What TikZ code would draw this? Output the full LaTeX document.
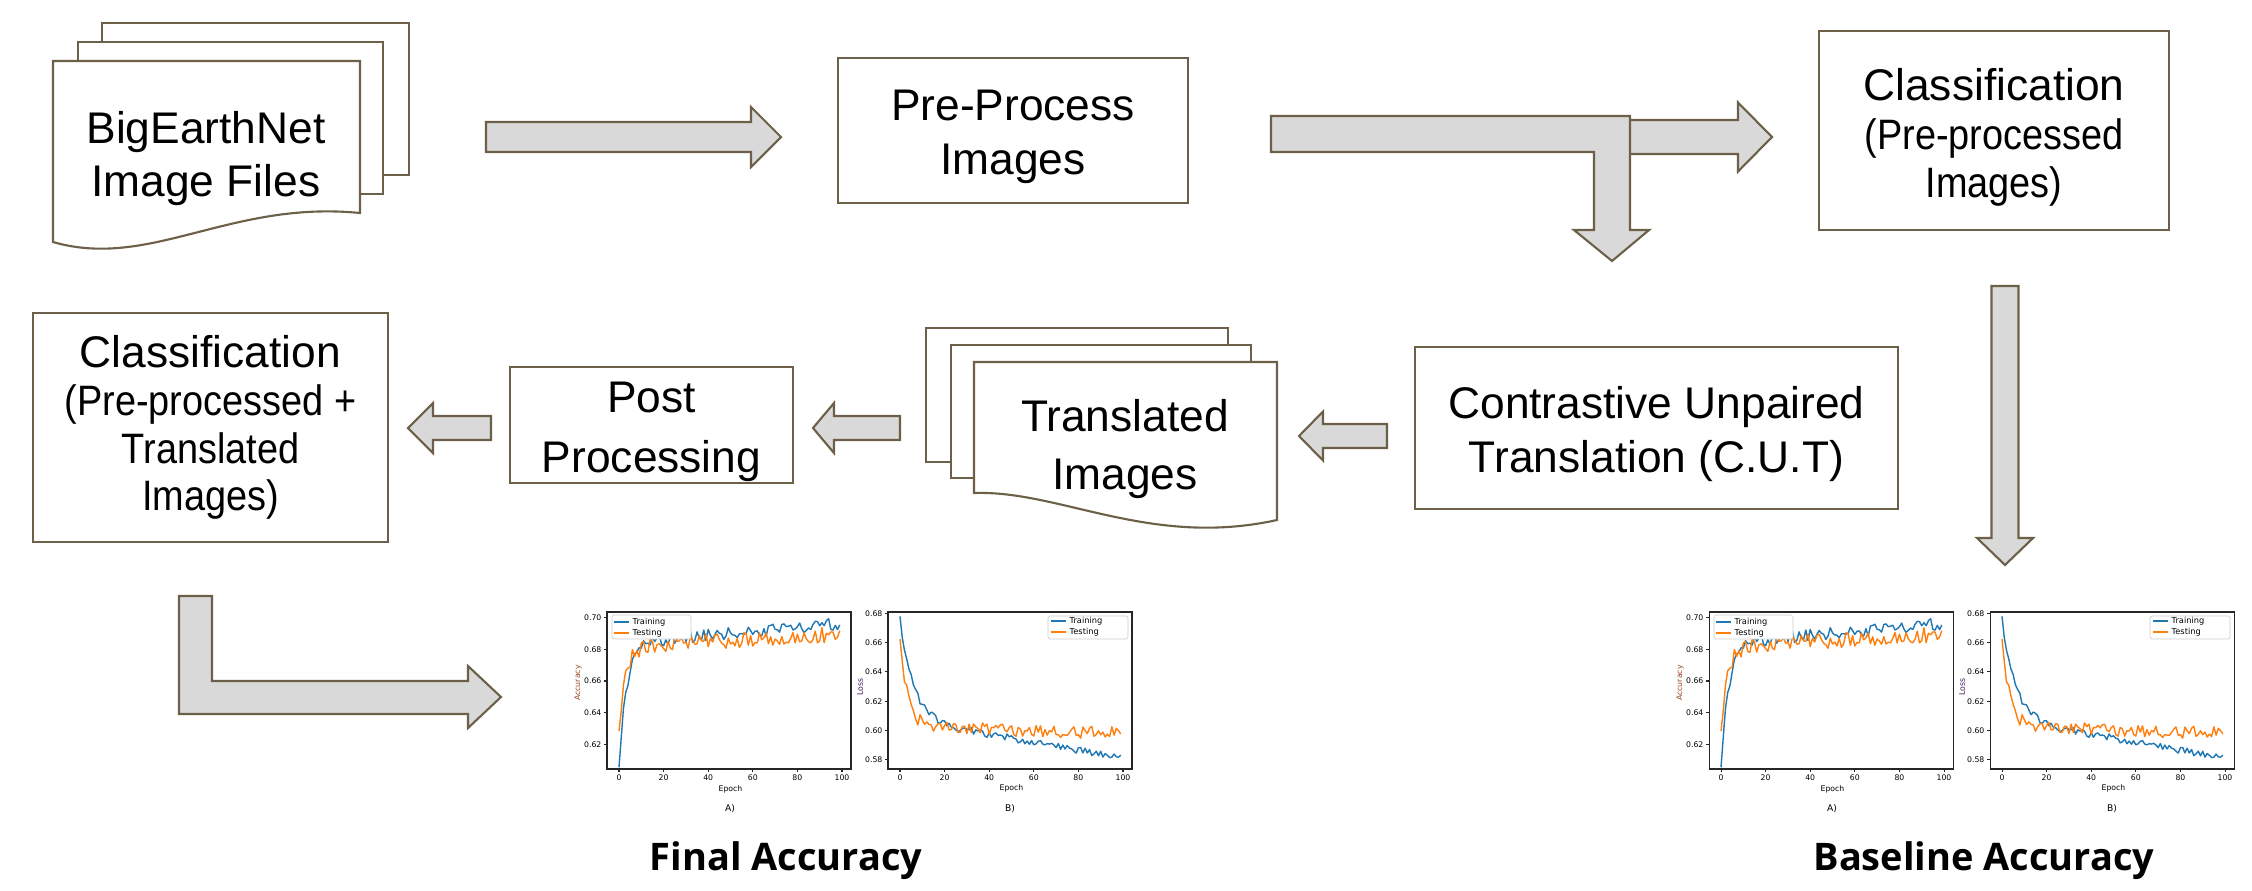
\documentclass[tikz,border=0pt]{standalone}
\usepackage{graphicx}
\usepackage{fontspec}
\setmainfont{Liberation Sans}
\newfontfamily\titlefont{Open Sans}
\newfontfamily\plotfont{DejaVu Sans}
\usetikzlibrary{calc}
\definecolor{edgecol}{RGB}{108,96,72}
\definecolor{arrowfill}{RGB}{217,217,217}
\definecolor{trainblue}{HTML}{1F77B4}
\definecolor{testorange}{HTML}{FF7F0E}
\definecolor{acclabel}{RGB}{150,70,30}
\definecolor{losslabel}{RGB}{70,20,90}
\newcommand{\squeezed}[1]{\scalebox{0.89}[1]{\fontsize{12.1}{13.7}\selectfont #1}}

\begin{document}
\begin{tikzpicture}[x=0.01cm,y=-0.01cm,
	box/.style={draw=edgecol,line width=.6pt,fill=white,inner sep=0pt},
	txt/.style={align=center,inner sep=0pt,font=\fontsize{12.6}{#1}\selectfont},
	page/.style={draw=edgecol,line width=.6pt,fill=white},
	blockarrow/.style={draw=edgecol,line width=.6pt,fill=arrowfill},
	fatarrow/.style n args={3}{blockarrow,to path={let \p1=($(\tikztotarget)!#3!(\tikztostart)$) in
		($(\tikztostart)!#1!90:(\tikztotarget)$) -- ($(\p1)!#1!90:(\tikztotarget)$) -- ($(\p1)!#2!90:(\tikztotarget)$) -- (\tikztotarget)
		-- ($(\p1)!#2!-90:(\tikztotarget)$) -- ($(\p1)!#1!-90:(\tikztotarget)$) -- ($(\tikztostart)!#1!-90:(\tikztotarget)$) -- cycle}},
	result/.style={font=\titlefont\bfseries\fontsize{10.8}{12}\selectfont,anchor=base},
	frame/.style={draw=black!85,line width=.3pt},
	tick/.style={font=\plotfont\fontsize{2.2}{2.6}\selectfont,inner sep=.6pt},
	legend/.style={font=\plotfont\fontsize{2.35}{2.8}\selectfont,inner sep=0pt,anchor=west},
	curve/.style={line width=.4pt,line join=round},
	legendbox/.style={draw=black!20,fill=white,line width=.2pt,rounded corners=.5pt},
	curves/.pic={
		\draw[frame] (0,0) rectangle (244,157);
		\draw[frame] (281,0) rectangle (525,157);
		\foreach \e in {0,20,40,60,80,100}{
			\draw[frame] ({12+2.23*\e},157) -- ++(0,3) node[tick,anchor=north]{\e};
			\draw[frame] ({293+2.23*\e},157) -- ++(0,3) node[tick,anchor=north]{\e};}
		\foreach \v in {62,64,66,68,70}
			\draw[frame] (0,{5.7+15.825*(70-\v)}) -- ++(-3,0) node[tick,anchor=east]{0.\v};
		\foreach \v in {58,60,62,64,66,68}
			\draw[frame] (281,{1.3+14.65*(68-\v)}) -- ++(-3,0) node[tick,anchor=east]{0.\v};
		\node[tick,rotate=90,text=acclabel] (acc) at (-29,71) {Accuracy};
		\node[tick,rotate=90,text=losslabel] (loss) at (253,75) {Loss};
		\node[tick] (epa) at (123.5,177) {Epoch};
		\node[tick] (epb) at (404.5,176) {Epoch};
		\node[tick,font=\plotfont\fontsize{2.6}{3}\selectfont] (pa) at (123,197) {A)};
		\node[tick,font=\plotfont\fontsize{2.6}{3}\selectfont] (pb) at (403,197) {B)};
		\pgfmathsetseed{4}
		\draw[curve,trainblue] plot[domain=0:99,samples=100,variable=\ep] ({12+2.23*\ep},{5.7+1582.5*(0.016-0.00012*\ep+0.076*exp(-min(\ep,30)/3.5)+0.008*(rnd-0.5))});
		\draw[curve,testorange] plot[domain=0:99,samples=100,variable=\ep] ({12+2.23*\ep},{5.7+1582.5*(0.018-0.00008*\ep+0.05*exp(-min(\ep,30)/3)+0.01*(rnd-0.5))});
		\draw[curve,trainblue] plot[domain=0:99,samples=100,variable=\ep] ({293+2.23*\ep},{1.3+1465*(0.072+0.00028*\ep-0.068*exp(-min(\ep,30)/6)+0.005*(rnd-0.5))});
		\draw[curve,testorange] plot[domain=0:99,samples=100,variable=\ep] ({293+2.23*\ep},{1.3+1465*(0.0775+0.00005*\ep-0.06*exp(-min(\ep,30)/3.5)+0.009*(rnd-0.5))});
		\draw[legendbox] (5,3) rectangle (84,27);
		\draw[curve,trainblue] (6.5,10) -- (22,10);
		\draw[curve,testorange] (6.5,21) -- (22,21);
		\node[legend] (la1) at (25,10) {Training};
		\node[legend] (la2) at (25,21) {Testing};
		\draw[legendbox] (441,4) rectangle (521,27);
		\draw[curve,trainblue] (444,9) -- (459,9);
		\draw[curve,testorange] (444,20) -- (459,20);
		\node[legend] (lb1) at (462,9) {Training};
		\node[legend] (lb2) at (462,20) {Testing};
	}]
\useasboundingbox (0,0) rectangle (2252,890);

\draw[page] (102,23) rectangle (409,175);
\draw[page] (78,42) rectangle (383,194);
\draw[page] (53,61) -- (360,61) -- (360,213) .. controls (230,200) and (150,270) .. (53,242) -- cycle;
\node[txt=15.1pt] (files) at (206,158.6) {BigEarthNet\\Image Files};

\node[box,minimum width=3.5cm,minimum height=1.45cm] (pre) at (1013,130.5) {};
\node[txt=15.5pt] (pretext) at ($(pre)+(0,6.5)$) {Pre-Process\\Images};
\node[box,minimum width=3.5cm,minimum height=1.99cm] (clsbase) at (1994,130.5) {};
\node[txt=13.7pt] (clsbasetext) at ($(clsbase)+(0,7)$) {Classification\\\squeezed{(Pre-processed}\\\squeezed{Images)}};
\node[box,minimum width=4.83cm,minimum height=1.62cm] (cut) at (1656.5,428) {};
\node[txt=15.1pt] (cuttext) at ($(cut)+(0,6)$) {Contrastive Unpaired\\Translation (C.U.T)};

\draw[page] (926,328) rectangle (1228,462);
\draw[page] (951,345) rectangle (1251,478);
\draw[page] (974,362) -- (1277,362) -- (1277,520) .. controls (1150,548) and (1060,490) .. (974,493) -- cycle;
\node[txt=16.4pt] (trans) at (1125,449) {Translated\\Images};

\node[box,minimum width=2.83cm,minimum height=1.16cm] (post) at (651.5,425) {};
\node[txt=17.2pt] (posttext) at ($(post)+(0,7)$) {Post\\Processing};
\node[box,minimum width=3.55cm,minimum height=2.29cm] (clsfinal) at (210.5,427.5) {};
\node[txt=13.6pt] (clsfinaltext) at (clsfinal) {Classification\\\squeezed{(Pre-processed +}\\\squeezed{Translated}\\\squeezed{Images)}};

\coordinate (filesout) at (486,137);
\coordinate (prein) at (781,137);
\coordinate (splitout) at (1620,137);
\coordinate (clsbasein) at (1772,137);
\coordinate (clsbaseout) at (2005,286);
\coordinate (baseacc) at (2005,565);
\coordinate (cutout) at (1387,436);
\coordinate (transin) at (1299,436);
\coordinate (transout) at (900,428);
\coordinate (postin) at (813,428);
\coordinate (postout) at (491,428);
\coordinate (clsfinalin) at (408,428);

\draw[fatarrow={.15cm}{.30cm}{.30cm}] (filesout) to (prein);
\draw[fatarrow={.17cm}{.345cm}{.34cm}] (splitout) to (clsbasein);
\draw[blockarrow] (1271,116) -- (1630,116) -- (1630,230) -- (1649,230) -- (1612,261) -- (1574,230) -- (1594,230) -- (1594,152) -- (1271,152) -- cycle;
\draw[fatarrow={.135cm}{.28cm}{.27cm}] (clsbaseout) to (baseacc);
\draw[fatarrow={.12cm}{.245cm}{.24cm}] (cutout) to (transin);
\draw[fatarrow={.12cm}{.25cm}{.21cm}] (transout) to (postin);
\draw[fatarrow={.12cm}{.25cm}{.25cm}] (postout) to (clsfinalin);
\draw[blockarrow] (179,596) -- (212,596) -- (212,681) -- (468,681) -- (468,666) -- (501,697) -- (468,728) -- (468,714) -- (179,714) -- cycle;

\pic (finalplots) at (607,612) {curves};
\pic (baseplots) at (1709,612) {curves};

\node[result] (final) at (786,870) {Final Accuracy};
\node[result] (baseline) at (1984,870) {Baseline Accuracy};
\end{tikzpicture}
\end{document}
